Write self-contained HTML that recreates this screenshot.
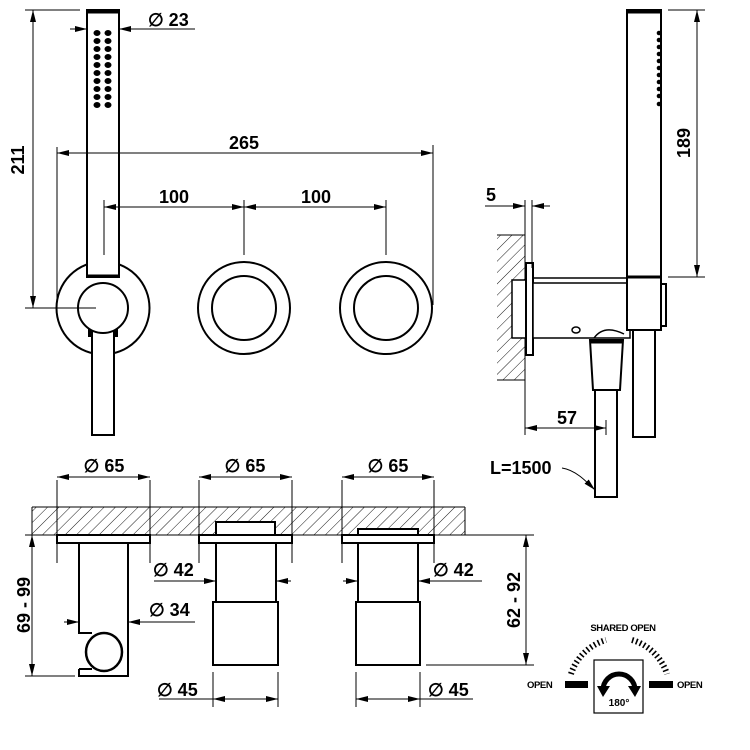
<!DOCTYPE html>
<html><head><meta charset="utf-8"><style>
html,body{margin:0;padding:0;background:#fff}
svg{display:block}
text{font-family:"Liberation Sans",Arial,sans-serif;font-weight:bold;fill:#000}
</style></head><body>
<svg width="750" height="750" viewBox="0 0 750 750" xmlns="http://www.w3.org/2000/svg">
<defs>
<marker id="a" markerUnits="userSpaceOnUse" markerWidth="13" markerHeight="7" refX="12" refY="3" orient="auto-start-reverse"><path d="M0,0 L12,3 L0,6 z" fill="#000"/></marker>
<pattern id="h" patternUnits="userSpaceOnUse" width="8" height="8" patternTransform="rotate(45)"><line x1="0" y1="0" x2="0" y2="8" stroke="#000" stroke-width="0.9"/></pattern>
</defs>
<g stroke="#000" fill="none" stroke-width="1">
<circle cx="103" cy="308" r="46.5" stroke-width="2"/>
<circle cx="244" cy="308" r="46" stroke-width="2"/>
<circle cx="244" cy="308" r="32" stroke-width="2"/>
<circle cx="386" cy="308" r="46" stroke-width="2"/>
<circle cx="386" cy="308" r="32" stroke-width="2"/>
<rect x="92" y="330" width="22" height="105" fill="#fff" stroke-width="2"/>
<rect x="88" y="325" width="4" height="12" fill="#000" stroke="none"/>
<rect x="114" y="325" width="4" height="12" fill="#000" stroke="none"/>
<rect x="87" y="10" width="32" height="267" fill="#fff" stroke-width="2"/>
<line x1="87" y1="12" x2="119" y2="12" stroke-width="3"/>
<line x1="87" y1="276" x2="119" y2="276" stroke-width="3"/>
<circle cx="103" cy="308" r="25" fill="#fff" stroke-width="2"/>
<line x1="25" y1="10" x2="80" y2="10"/>
<line x1="25" y1="308" x2="96" y2="308"/>
<line x1="33" y1="10" x2="33" y2="308" marker-start="url(#a)" marker-end="url(#a)"/>
<line x1="70" y1="29" x2="87" y2="29" marker-end="url(#a)"/>
<line x1="195" y1="29" x2="119" y2="29" marker-end="url(#a)"/>
<line x1="57" y1="147" x2="57" y2="305"/>
<line x1="433" y1="145" x2="433" y2="305"/>
<line x1="57" y1="153" x2="433" y2="153" marker-start="url(#a)" marker-end="url(#a)"/>
<line x1="104" y1="200" x2="104" y2="255"/>
<line x1="244" y1="200" x2="244" y2="255"/>
<line x1="386" y1="200" x2="386" y2="255"/>
<line x1="104" y1="207" x2="244" y2="207" marker-start="url(#a)" marker-end="url(#a)"/>
<line x1="244" y1="207" x2="386" y2="207" marker-start="url(#a)" marker-end="url(#a)"/>

<rect x="497" y="235" width="28" height="145" fill="url(#h)" stroke="none"/>
<line x1="525" y1="235" x2="525" y2="435"/>
<line x1="497" y1="235" x2="525" y2="235"/>
<line x1="497" y1="380" x2="525" y2="380"/>
<rect x="512" y="280" width="14" height="58" fill="#fff" stroke-width="1.5"/>
<rect x="526" y="263" width="7" height="92" fill="#fff" stroke-width="2"/>
<rect x="533" y="283" width="97" height="55" fill="#fff" stroke-width="1.5"/>
<line x1="533" y1="278" x2="627" y2="278" stroke-width="1.5"/>
<path d="M594,338 q10,-14 30,-4" stroke-width="1.5"/>
<ellipse cx="576" cy="330" rx="4" ry="3" stroke-width="1.5"/>
<path d="M590,340 L623,340 L620,390 L593,390 z" fill="#fff" stroke-width="2"/>
<line x1="590" y1="342" x2="623" y2="342" stroke-width="3"/>
<rect x="595" y="390" width="22" height="107" fill="#fff" stroke-width="2"/>
<rect x="633" y="330" width="22" height="107" fill="#fff" stroke-width="2"/>
<rect x="627" y="277" width="34" height="53" fill="#fff" stroke-width="2"/>
<rect x="661" y="284" width="5" height="42" fill="#fff" stroke-width="2"/>
<rect x="627" y="10" width="34" height="267" fill="#fff" stroke-width="2"/>
<line x1="627" y1="12" x2="661" y2="12" stroke-width="3"/>
<line x1="627" y1="277" x2="661" y2="277" stroke-width="3"/>
<line x1="668" y1="10" x2="705" y2="10"/>
<line x1="668" y1="277" x2="705" y2="277"/>
<line x1="697" y1="10" x2="697" y2="277" marker-start="url(#a)" marker-end="url(#a)"/>
<line x1="532" y1="200" x2="532" y2="268"/>
<line x1="525" y1="200" x2="525" y2="235"/>
<line x1="485" y1="206" x2="525" y2="206" marker-end="url(#a)"/>
<line x1="550" y1="206" x2="532" y2="206" marker-end="url(#a)"/>
<line x1="525" y1="428" x2="606" y2="428" marker-start="url(#a)" marker-end="url(#a)"/>
<line x1="606" y1="420" x2="606" y2="435"/>
<path d="M562,468 C575,470 585,480 595,490" marker-end="url(#a)"/>

<rect x="32" y="507" width="433" height="28" fill="url(#h)" stroke="none"/>
<line x1="32" y1="507" x2="465" y2="507"/>
<line x1="32" y1="507" x2="32" y2="535"/>
<line x1="465" y1="507" x2="465" y2="535"/>
<line x1="25" y1="535" x2="534" y2="535"/>
<line x1="57" y1="480" x2="57" y2="563"/><line x1="150" y1="480" x2="150" y2="563"/>
<line x1="199" y1="480" x2="199" y2="563"/><line x1="292" y1="480" x2="292" y2="563"/>
<line x1="342" y1="480" x2="342" y2="563"/><line x1="434" y1="480" x2="434" y2="563"/>
<line x1="57" y1="477" x2="150" y2="477" marker-start="url(#a)" marker-end="url(#a)"/>
<line x1="199" y1="477" x2="292" y2="477" marker-start="url(#a)" marker-end="url(#a)"/>
<line x1="342" y1="477" x2="434" y2="477" marker-start="url(#a)" marker-end="url(#a)"/>
<rect x="57" y="535" width="93" height="8" fill="#fff" stroke-width="2"/>
<rect x="199" y="535" width="93" height="8" fill="#fff" stroke-width="2"/>
<rect x="342" y="535" width="92" height="8" fill="#fff" stroke-width="2"/>
<path d="M79,543 L79,633 L92,633 M79,669 L92,669 M79,669 L79,676 L128,676 L128,543" stroke-width="2"/>
<ellipse cx="104" cy="652" rx="18" ry="19" stroke-width="2.5" fill="#fff"/>
<rect x="216" y="522" width="59" height="13" fill="#fff" stroke-width="2"/>
<rect x="216" y="543" width="60" height="59" fill="#fff" stroke-width="2"/>
<rect x="213" y="602" width="65" height="63" fill="#fff" stroke-width="2"/>
<rect x="358" y="529" width="60" height="6" fill="#fff" stroke-width="2"/>
<rect x="358" y="543" width="60" height="59" fill="#fff" stroke-width="2"/>
<rect x="356" y="602" width="64" height="63" fill="#fff" stroke-width="2"/>
<line x1="25" y1="676" x2="75" y2="676"/>
<line x1="32" y1="535" x2="32" y2="676" marker-start="url(#a)" marker-end="url(#a)"/>
<line x1="64" y1="622" x2="79" y2="622" marker-end="url(#a)"/>
<line x1="195" y1="622" x2="128" y2="622" marker-end="url(#a)"/>
<line x1="154" y1="581" x2="216" y2="581" marker-end="url(#a)"/>
<line x1="291" y1="581" x2="276" y2="581" marker-end="url(#a)"/>
<line x1="343" y1="581" x2="358" y2="581" marker-end="url(#a)"/>
<line x1="482" y1="581" x2="418" y2="581" marker-end="url(#a)"/>
<line x1="426" y1="665" x2="534" y2="665"/>
<line x1="526" y1="535" x2="526" y2="665" marker-start="url(#a)" marker-end="url(#a)"/>
<line x1="213" y1="672" x2="213" y2="707"/><line x1="278" y1="672" x2="278" y2="707"/>
<line x1="356" y1="672" x2="356" y2="707"/><line x1="420" y1="672" x2="420" y2="707"/>
<line x1="159" y1="699" x2="213" y2="699"/>
<line x1="213" y1="699" x2="278" y2="699" marker-start="url(#a)" marker-end="url(#a)"/>
<line x1="356" y1="699" x2="420" y2="699" marker-start="url(#a)" marker-end="url(#a)"/>
<line x1="420" y1="699" x2="473" y2="699"/>
<path d="M571,674 A52,52 0 0 1 606,640" stroke-width="6" stroke-dasharray="1.6 2.6"/>
<path d="M632,640 A52,52 0 0 1 667,674" stroke-width="6" stroke-dasharray="1.6 2.6"/>
<rect x="594" y="660" width="49" height="53" stroke-width="1.2"/>
<rect x="565" y="681" width="23" height="7" fill="#000" stroke="none"/>
<rect x="649" y="681" width="24" height="7" fill="#000" stroke="none"/>
<path d="M603,690 A16,16 0 0 1 635,690" stroke-width="5"/>
<path d="M597,686 L603,697 L610,686 z" fill="#000" stroke="none"/>
<path d="M628,686 L635,697 L641,686 z" fill="#000" stroke="none"/>
</g>
<g fill="#000">
<g id="dl"><ellipse cx="97" cy="33" rx="3.5" ry="3"/><ellipse cx="108" cy="33" rx="3.5" ry="3"/></g>
<use href="#dl" y="8"/><use href="#dl" y="16"/><use href="#dl" y="24"/><use href="#dl" y="32"/>
<use href="#dl" y="40"/><use href="#dl" y="48"/><use href="#dl" y="56"/><use href="#dl" y="64"/><use href="#dl" y="72"/>
<circle cx="659" cy="33" r="2.3"/><circle cx="659" cy="40" r="2.3"/><circle cx="659" cy="47" r="2.3"/>
<circle cx="659" cy="54" r="2.3"/><circle cx="659" cy="61" r="2.3"/><circle cx="659" cy="68" r="2.3"/>
<circle cx="659" cy="75" r="2.3"/><circle cx="659" cy="82" r="2.3"/><circle cx="659" cy="89" r="2.3"/>
<circle cx="659" cy="96" r="2.3"/><circle cx="659" cy="104" r="2.3"/>
</g>
<g font-size="18">
<text x="148" y="26">∅ 23</text>
<text x="244" y="149" text-anchor="middle">265</text>
<text x="174" y="203" text-anchor="middle">100</text>
<text x="316" y="203" text-anchor="middle">100</text>
<text transform="translate(24,160) rotate(-90)" text-anchor="middle">211</text>
<text transform="translate(690,143) rotate(-90)" text-anchor="middle">189</text>
<text x="486" y="201">5</text>
<text x="567" y="424" text-anchor="middle">57</text>
<text x="490" y="474">L=1500</text>
<text x="104" y="472" text-anchor="middle">∅ 65</text>
<text x="245" y="472" text-anchor="middle">∅ 65</text>
<text x="388" y="472" text-anchor="middle">∅ 65</text>
<text x="153" y="576">∅ 42</text>
<text x="433" y="576">∅ 42</text>
<text x="149" y="616">∅ 34</text>
<text x="157" y="696">∅ 45</text>
<text x="428" y="696">∅ 45</text>
<text transform="translate(30,605) rotate(-90)" text-anchor="middle">69 - 99</text>
<text transform="translate(520,600) rotate(-90)" text-anchor="middle">62 - 92</text>
</g>
<g font-size="9.5">
<text x="623" y="631" text-anchor="middle" letter-spacing="-0.4">SHARED OPEN</text>
<text x="527" y="688" letter-spacing="-0.4">OPEN</text>
<text x="677" y="688" letter-spacing="-0.4">OPEN</text>
</g>
<text x="619" y="706" font-size="10" text-anchor="middle" font-weight="normal">180°</text>
</svg>
</body></html>
